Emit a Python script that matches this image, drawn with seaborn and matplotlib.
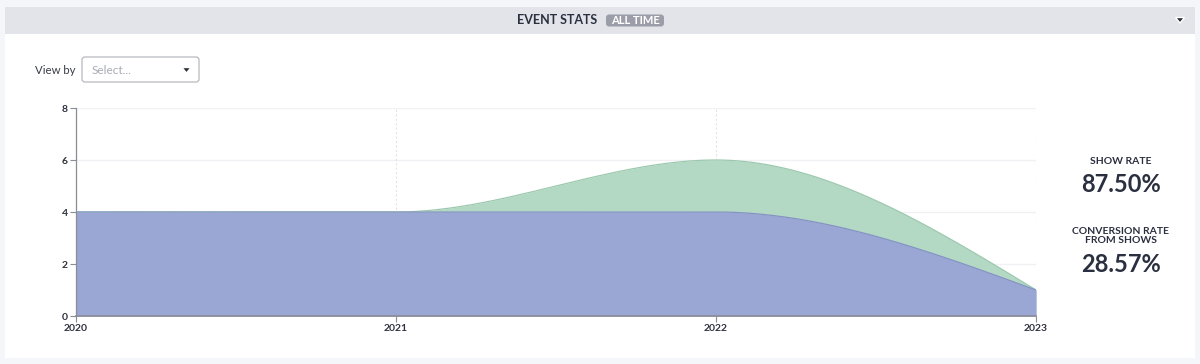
import numpy as np
import pandas as pd
import matplotlib
matplotlib.use("Agg")
import matplotlib.pyplot as plt
from matplotlib.patches import FancyBboxPatch, Rectangle, Polygon
import seaborn as sns

# ---- data ----
years = [2020, 2021, 2022, 2023]
shows_total = [4, 4, 6, 1]      # green series (top)
conversions = [4, 4, 4, 1]      # blue series (bottom)
y_ticks = [0, 2, 4, 6, 8]
x_ticks = [2020, 2021, 2022, 2023]
title_text = "EVENT STATS"
badge_text = "ALL TIME"
stat_labels = ["SHOW RATE", "CONVERSION RATE\nFROM SHOWS"]
stat_values = ["87.50%", "28.57%"]

BLUE = "#9aa7d4"
GREEN = "#b3d9c4"
DARK = "#2b3040"

sns.set_theme(style="white")
plt.rcParams["font.family"] = ["Lato", "DejaVu Sans"]


def monotone_x(xs, ys, n=80):
    """d3.curveMonotoneX rendering of a series (Hermite with Steffen slopes)."""
    xs = np.asarray(xs, float)
    ys = np.asarray(ys, float)
    m = len(xs)
    h = np.diff(xs)
    s = np.diff(ys) / h
    t = np.zeros(m)
    for i in range(1, m - 1):
        p = (s[i - 1] * h[i] + s[i] * h[i - 1]) / (h[i - 1] + h[i])
        t[i] = (np.sign(s[i - 1]) + np.sign(s[i])) * min(abs(s[i - 1]), abs(s[i]), 0.5 * abs(p))
    t[0] = (3 * s[0] - t[1]) / 2
    t[-1] = (3 * s[-1] - t[-2]) / 2
    out_x, out_y = [], []
    for i in range(m - 1):
        u = np.linspace(0, 1, n, endpoint=(i == m - 2))
        h00 = 2 * u**3 - 3 * u**2 + 1
        h10 = u**3 - 2 * u**2 + u
        h01 = -2 * u**3 + 3 * u**2
        h11 = u**3 - u**2
        out_x.append(xs[i] + u * h[i])
        out_y.append(h00 * ys[i] + h10 * h[i] * t[i] + h01 * ys[i + 1] + h11 * h[i] * t[i + 1])
    return np.concatenate(out_x), np.concatenate(out_y)


fig = plt.figure(figsize=(12, 3.64), dpi=100)
fig.patch.set_facecolor("#f5f6f9")

W, H = 1200, 364
bg = fig.add_axes([0, 0, 1, 1], zorder=-5)
bg.set_xlim(0, W); bg.set_ylim(H, 0); bg.axis("off")
bg.add_patch(Rectangle((5, 34), 1190, 324, facecolor="white", edgecolor="none"))
bg.add_patch(Rectangle((5, 7), 1190, 27, facecolor="#e3e4e9", edgecolor="none"))
bg.text(597, 20.5, title_text, ha="right", va="center", fontsize=9, fontweight="bold", color=DARK)
bg.add_patch(FancyBboxPatch((606, 14.5), 58, 12, boxstyle="round,pad=0,rounding_size=3",
                            facecolor="#9b9da8", edgecolor="none"))
bg.text(635, 20.8, badge_text, ha="center", va="center", fontsize=8, fontweight="bold", color="white")
bg.add_patch(Polygon([[1175.5, 17.5], [1184.5, 17.5], [1180, 23]], closed=True, facecolor="#2b2b33"))
# view by dropdown
bg.text(35, 70, "View by", ha="left", va="center", fontsize=8.2, color="#3a3d48")
bg.add_patch(FancyBboxPatch((82, 57), 117, 25, boxstyle="round,pad=0,rounding_size=3",
                            facecolor="white", edgecolor="#b8b9c0", linewidth=0.9))
bg.text(92, 70, "Select...", ha="left", va="center", fontsize=8.5, color="#a9abb3")
bg.add_patch(Polygon([[182, 67.5], [191, 67.5], [186.5, 73]], closed=True, facecolor="#2b2b33"))
# stats
bg.text(1121, 161, stat_labels[0], ha="center", va="center", fontsize=7.5, fontweight="bold", color=DARK)
bg.text(1121, 184, stat_values[0], ha="center", va="center", fontsize=17, fontweight="bold", color=DARK)
bg.text(1121, 236, stat_labels[1], ha="center", va="center", fontsize=7.5, fontweight="bold",
        color=DARK, linespacing=1.1)
bg.text(1121, 264, stat_values[1], ha="center", va="center", fontsize=17, fontweight="bold", color=DARK)

# ---- chart ----
ax = fig.add_axes([76 / W, 1 - 316 / H, (1036 - 76) / W, (316 - 108) / H])
ax.set_facecolor("none")

gx, gy = monotone_x(years, shows_total)
bx, by = monotone_x(years, conversions)

ax.fill_between(gx, 0, gy, color=GREEN, linewidth=0, zorder=2)
ax.fill_between(bx, 0, by, color=BLUE, linewidth=0, zorder=3)
curves = pd.DataFrame({
    "x": np.concatenate([gx, bx]),
    "y": np.concatenate([gy, by]),
    "series": ["shows"] * len(gx) + ["conversions"] * len(bx),
})
sns.lineplot(data=curves, x="x", y="y", hue="series", sort=False,
             palette={"shows": "#9cc8ae", "conversions": "#8593c4"},
             linewidth=0.9, legend=False, ax=ax, zorder=4)

ax.set_xlim(2020, 2023)
ax.set_ylim(0, 8)
ax.set_xticks(x_ticks)
ax.set_xticklabels([str(v) for v in x_ticks])
ax.set_yticks(y_ticks)
ax.set_xlabel("")
ax.set_ylabel("")

for yv in y_ticks[1:]:
    ax.axhline(yv, color="#f0f1f4", linewidth=1, zorder=1)
for xv in x_ticks[1:]:
    ax.axvline(xv, color="#e2e3e8", linewidth=0.8, linestyle=(0, (2, 2)), zorder=1)

for side in ["top", "right"]:
    ax.spines[side].set_visible(False)
ax.spines["left"].set_color("#8a8c96")
ax.spines["left"].set_linewidth(0.9)
ax.spines["bottom"].set_color("#8a8c96")
ax.spines["bottom"].set_linewidth(1.2)
ax.spines["left"].set_zorder(6)
ax.spines["bottom"].set_zorder(6)
ax.tick_params(axis="both", which="both", length=4, width=0.8, color="#8a8c96",
               labelsize=7.5, labelcolor="#2f323d", pad=2, left=True, bottom=True)
for lab in ax.get_xticklabels() + ax.get_yticklabels():
    lab.set_fontweight("bold")

fig.savefig("out.png", dpi=100, facecolor=fig.get_facecolor())
